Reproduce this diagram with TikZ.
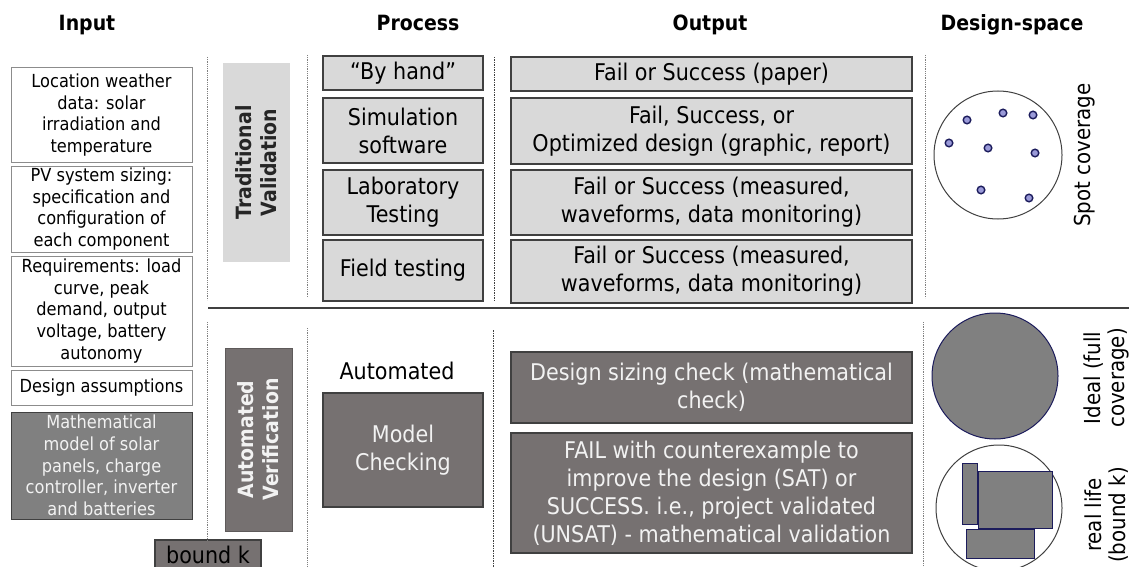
\documentclass[tikz,border=0pt]{standalone}
\usepackage{fontspec}
\setmainfont{DejaVu Sans}[FakeStretch=0.9]
\definecolor{lightbox}{HTML}{D9D9D9}
\definecolor{darkbox}{HTML}{767171}
\definecolor{midbox}{HTML}{808080}
\definecolor{edge}{HTML}{404040}
\definecolor{paleedge}{HTML}{8C8C8C}
\definecolor{navy}{HTML}{1C1C5C}
\definecolor{dotfill}{HTML}{9A9AD8}
\definecolor{softwhite}{HTML}{F2F2F2}
\newcommand\headfont{\fontsize{21}{25}\selectfont\bfseries}
\newcommand\boxfont{\fontsize{23}{28}\selectfont}
\newcommand\sidefont{\fontsize{18}{21.7}\selectfont}
\newcommand\labelfont{\fontsize{22}{24}\selectfont}
\begin{document}
\begin{tikzpicture}[x=1pt,y=-1pt,
  every node/.style={inner sep=0pt, align=center},
  header/.style={font=\headfont, text=black, anchor=base},
  inbox/.style={draw=paleedge, line width=1pt, fill=white, minimum width=181, font=\sidefont, text=black},
  modelbox/.style={draw=edge, line width=1pt, fill=midbox, minimum width=181, font=\sidefont, text=softwhite},
  procbox/.style={draw=edge, line width=1.2pt, fill=lightbox, minimum width=160, font=\boxfont, text=black},
  outbox/.style={draw=edge, line width=1.2pt, fill=lightbox, minimum width=401, font=\boxfont, text=black},
  darkproc/.style={draw=edge, line width=1.2pt, fill=darkbox, minimum width=160, font=\boxfont, text=softwhite},
  darkout/.style={draw=edge, line width=1.2pt, fill=darkbox, minimum width=401, font=\boxfont, text=softwhite},
  sidebar/.style={rotate=90, minimum height=67, font=\headfont},
  sep/.style={draw=gray, line width=0.8pt, densely dotted},
  darksep/.style={draw=edge, line width=0.8pt, dash pattern=on 1.5pt off 1pt},
  spotdot/.style={draw=navy, fill=dotfill, line width=1.4pt},
  region/.style={fill=midbox, draw=navy, line width=1pt},
  sidelabel/.style={rotate=90, font=\labelfont, text=black}
]
\useasboundingbox (0,0) rectangle (1129,567);
\clip (0,0) rectangle (1129,567);

% column headings
\node[header] (hin)  at (87,31)   {Input};
\node[header] (hpro) at (418,31)  {Process};
\node[header] (hout) at (710,31)  {Output};
\node[header] (hds)  at (1012,31) {Design-space};

% input column
\node[inbox, minimum height=94]  (in1) at (101.5,115)   {Location weather\\data: solar\\irradiation and\\temperature};
\node[inbox, minimum height=86]  (in2) at (101.5,209)   {PV system sizing:\\specification and\\configuration of\\each component};
\node[inbox, minimum height=110] (in3) at (101.5,311)   {Requirements: load\\curve, peak\\demand, output\\voltage, battery\\autonomy};
\node[inbox, minimum height=35]  (in4) at (101.5,387.5) {Design assumptions};
\node[modelbox, minimum height=107] (in5) at (101.5,465.5) {Mathematical\\model of solar\\panels, charge\\controller, inverter\\and batteries};
\node[draw=edge, line width=1.2pt, fill=darkbox, minimum width=106, minimum height=30,
      font=\boxfont, text=black] (bk) at (208,555) {bound k};

% section bars
\node[sidebar, fill=lightbox, minimum width=199, text=black!85] (trad) at (256.5,162.5) {Traditional\\Validation};
\node[sidebar, fill=darkbox, draw=darkbox!80!black, minimum width=183, text=softwhite] (auto) at (258.5,439.5) {Automated\\Verification};

% separators
\draw[sep] (207,57) -- (207,300);
\draw[sep] (207,322) -- (207,540);
\draw[sep] (307,55) -- (307,297);
\draw[sep] (307,328) -- (307,567);
\draw[darksep] (494,57) -- (494,302);
\draw[darksep] (493,330) -- (493,567);
\draw[sep] (925,55) -- (925,298);
\draw[sep] (923,322) -- (923,567);
\draw[draw=edge, line width=1.4pt] (208,308) -- (1129,308);

% traditional process and output
\node[procbox, minimum height=34] (p1) at (403,73)    {“By hand”};
\node[procbox, minimum height=65] (p2) at (403,130.5) {Simulation\\software};
\node[procbox, minimum height=65] (p3) at (403,202.5) {Laboratory\\Testing};
\node[procbox, minimum height=61] (p4) at (403,270.5) {Field testing};

\node[outbox, minimum height=34] (o1) at (711.5,74)    {Fail or Success (paper)};
\node[outbox, minimum height=66] (o2) at (711.5,131)   {Fail, Success, or\\Optimized design (graphic, report)};
\node[outbox, minimum height=65] (o3) at (711.5,202.5) {Fail or Success (measured,\\waveforms, data monitoring)};
\node[outbox, minimum height=63] (o4) at (711.5,271.5) {Fail or Success (measured,\\waveforms, data monitoring)};

% automated process and output
\node[font=\boxfont, text=black] (autolbl) at (397,371) {Automated};
\node[darkproc, minimum height=114] (mc) at (403,450) {Model\\Checking};
\node[darkout, minimum height=71]  (o5) at (711.5,387.5) {Design sizing check (mathematical\\check)};
\node[darkout, minimum height=120] (o6) at (711.5,493)   {FAIL with counterexample to\\improve the design (SAT) or\\SUCCESS. i.e., project validated\\(UNSAT) - mathematical validation};

% design space: spot coverage
\draw[draw=edge, line width=1pt, fill=white] (998,155) circle[radius=64];
\foreach \p in {(967,120),(1003,113),(1033,115),(949,143),(988,148),(1035,153),(981,190),(1029,198)}
  \draw[spotdot] \p circle[radius=3.8];
\node[sidelabel] (spot) at (1085,155) {Spot coverage};

% design space: full coverage
\draw[region] (995,376) circle[radius=63];
\node[sidelabel] (ideal) at (1106,378) {Ideal (full\\coverage)};

% design space: bounded coverage
\draw[draw=edge, line width=1pt, fill=white] (999,508) circle[radius=63];
\draw[region] (962,463) rectangle (977,524);
\draw[region] (978,471) rectangle (1052,528);
\draw[region] (966,529) rectangle (1034,558);
\node[sidelabel] (real) at (1107,515) {real life\\(bound k)};
\end{tikzpicture}
\end{document}
